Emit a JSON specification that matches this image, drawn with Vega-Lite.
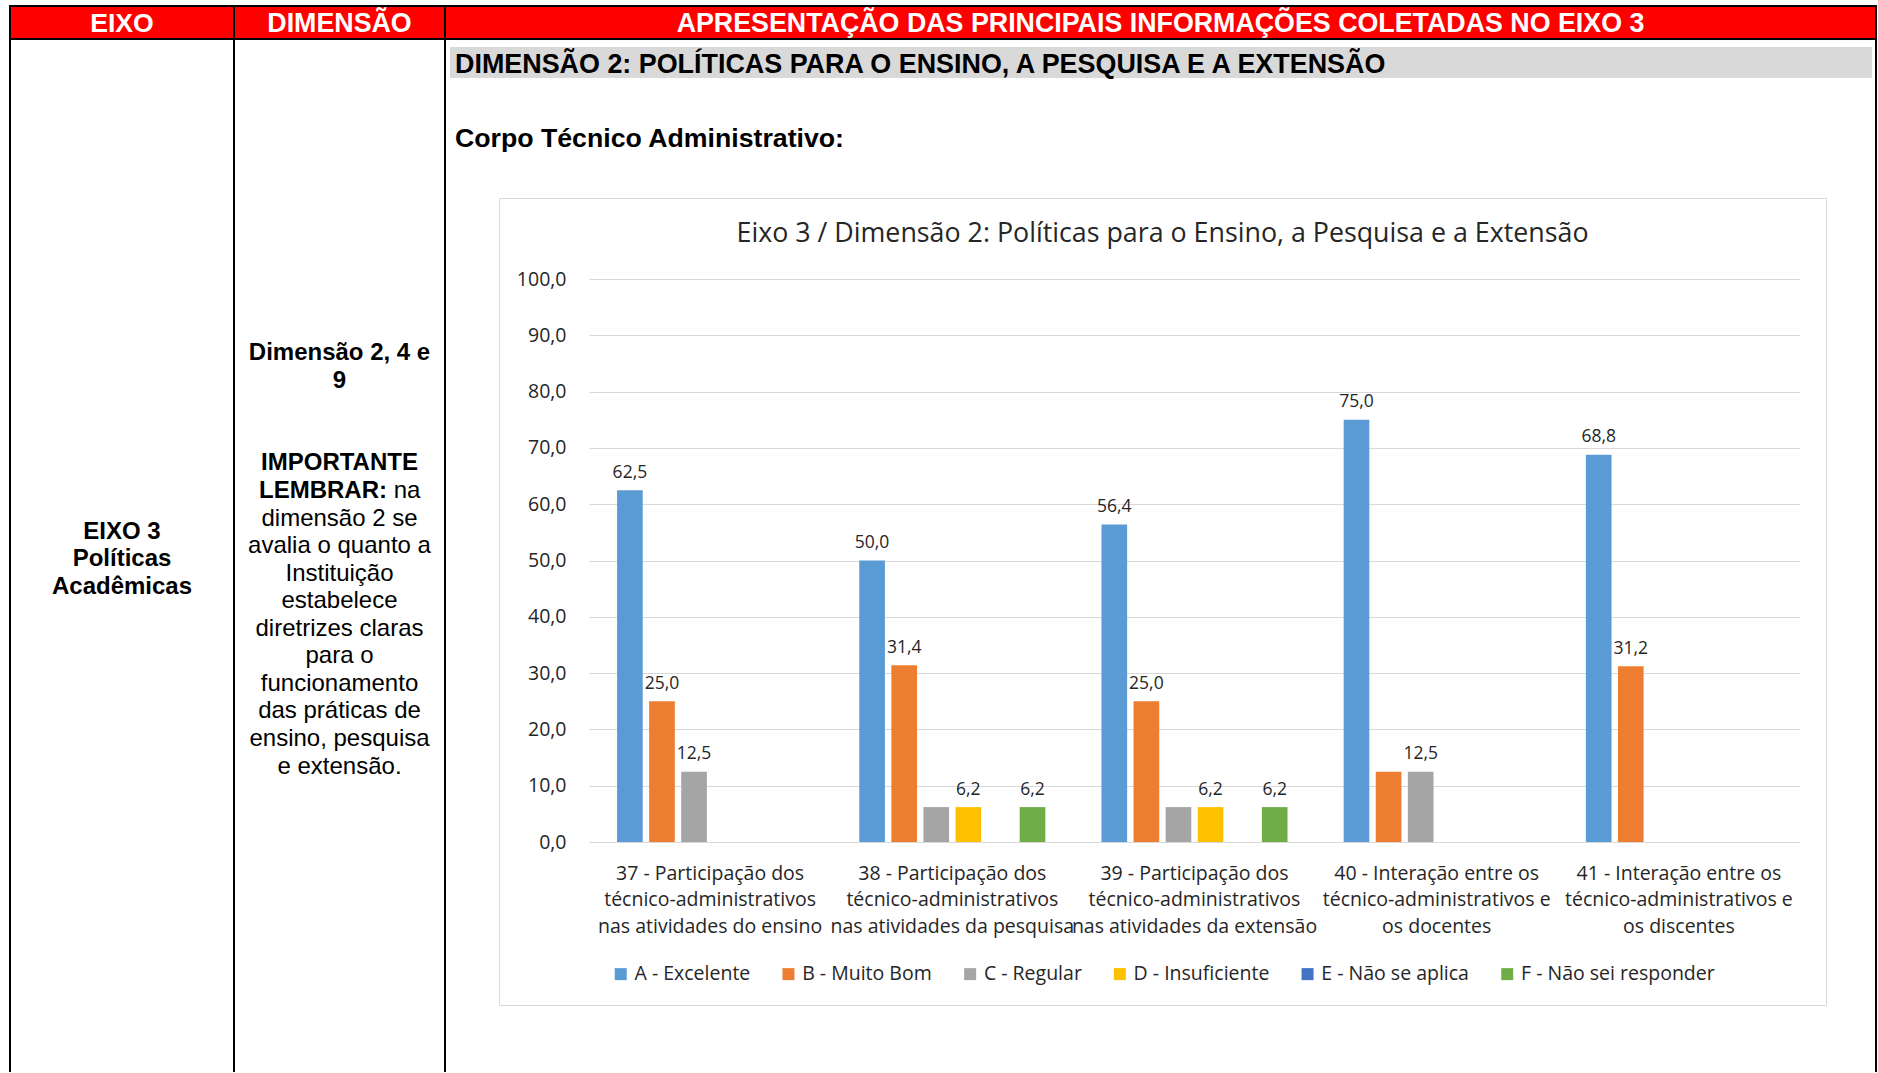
{
  "$schema": "https://vega.github.io/schema/vega-lite/v6.json",
  "padding": {"left": 9, "top": 5, "right": 0, "bottom": 0},
  "background": "white",
  "config": {"view": {"stroke": null}, "concat": {"spacing": 0}, "font": "Liberation Sans"},
  "spacing": 0,
  "vconcat": [
    {"width": 1868, "height": 2, "view": {"fill": "#000000", "stroke": null}, "data": {"values": []}, "mark": "point", "encoding": {}},
    {
      "spacing": 0,
      "hconcat": [
        {"width": 2, "height": 31, "view": {"fill": "#000000", "stroke": null}, "data": {"values": []}, "mark": "point", "encoding": {}},
        {"width": 222, "height": 31, "view": {"fill": "#ff0000", "stroke": null}, "data": {"values": [{"t": "EIXO"}]},
         "mark": {"type": "text", "font": "Liberation Sans", "fontSize": 26.6, "fontWeight": "bold", "color": "#ffffff", "baseline": "middle", "dy": 1},
         "encoding": {"text": {"field": "t"}}},
        {"width": 2, "height": 31, "view": {"fill": "#000000", "stroke": null}, "data": {"values": []}, "mark": "point", "encoding": {}},
        {"width": 209, "height": 31, "view": {"fill": "#ff0000", "stroke": null}, "data": {"values": [{"t": "DIMENSÃO"}]},
         "mark": {"type": "text", "font": "Liberation Sans", "fontSize": 26.8, "fontWeight": "bold", "color": "#ffffff", "baseline": "middle", "dy": 1},
         "encoding": {"text": {"field": "t"}}},
        {"width": 2, "height": 31, "view": {"fill": "#000000", "stroke": null}, "data": {"values": []}, "mark": "point", "encoding": {}},
        {"width": 1429, "height": 31, "view": {"fill": "#ff0000", "stroke": null}, "data": {"values": [{"t": "APRESENTAÇÃO DAS PRINCIPAIS INFORMAÇÕES COLETADAS NO EIXO 3"}]},
         "mark": {"type": "text", "font": "Liberation Sans", "fontSize": 26.8, "fontWeight": "bold", "color": "#ffffff", "baseline": "middle", "dy": 1},
         "encoding": {"text": {"field": "t"}}},
        {"width": 2, "height": 31, "view": {"fill": "#000000", "stroke": null}, "data": {"values": []}, "mark": "point", "encoding": {}}
      ]
    },
    {"width": 1868, "height": 2, "view": {"fill": "#000000", "stroke": null}, "data": {"values": []}, "mark": "point", "encoding": {}},
    {
      "spacing": 0,
      "hconcat": [
        {"width": 2, "height": 1032, "view": {"fill": "#000000", "stroke": null}, "data": {"values": []}, "mark": "point", "encoding": {}},
        {"width": 222, "height": 1032,
         "data": {"values": [{"linha": 1, "texto": "EIXO 3"}, {"linha": 2, "texto": "Políticas"}, {"linha": 3, "texto": "Acadêmicas"}]},
         "mark": {"type": "text", "font": "Liberation Sans", "fontSize": 24, "fontWeight": "bold", "color": "#000000", "baseline": "middle"},
         "encoding": {
           "y": {"field": "linha", "type": "quantitative", "scale": {"domain": [-16.851, 20.609], "reverse": true, "nice": false, "zero": false}, "axis": null},
           "text": {"field": "texto"}
         }},
        {"width": 2, "height": 1032, "view": {"fill": "#000000", "stroke": null}, "data": {"values": []}, "mark": "point", "encoding": {}},
        {"width": 209, "height": 1032,
         "layer": [
           {"data": {"values": [{"linha": 1, "texto": "Dimensão 2, 4 e"}, {"linha": 2, "texto": "9"}, {"linha": 5, "texto": "IMPORTANTE"}]},
            "mark": {"type": "text", "font": "Liberation Sans", "fontSize": 24, "fontWeight": "bold", "color": "#000000", "baseline": "middle"},
            "encoding": {
              "y": {"field": "linha", "type": "quantitative", "scale": {"domain": [-10.372, 27.088], "reverse": true, "nice": false, "zero": false}, "axis": null},
              "text": {"field": "texto"}
            }},
           {"data": {"values": [{"linha": 6, "negrito": "LEMBRAR:", "normal": "na"}]},
            "mark": {"type": "text", "font": "Liberation Sans", "fontSize": 24, "fontWeight": "bold", "color": "#000000", "baseline": "middle", "dx": -16.5},
            "encoding": {
              "y": {"field": "linha", "type": "quantitative", "scale": {"domain": [-10.372, 27.088], "reverse": true, "nice": false, "zero": false}, "axis": null},
              "text": {"field": "negrito"}
            }},
           {"data": {"values": [{"linha": 6, "negrito": "LEMBRAR:", "normal": "na"}]},
            "mark": {"type": "text", "font": "Liberation Sans", "fontSize": 24, "fontWeight": "normal", "color": "#000000", "baseline": "middle", "dx": 67.5},
            "encoding": {
              "y": {"field": "linha", "type": "quantitative", "scale": {"domain": [-10.372, 27.088], "reverse": true, "nice": false, "zero": false}, "axis": null},
              "text": {"field": "normal"}
            }},
           {"data": {"values": [
              {"linha": 7, "texto": "dimensão 2 se"},
              {"linha": 8, "texto": "avalia o quanto a"},
              {"linha": 9, "texto": "Instituição"},
              {"linha": 10, "texto": "estabelece"},
              {"linha": 11, "texto": "diretrizes claras"},
              {"linha": 12, "texto": "para o"},
              {"linha": 13, "texto": "funcionamento"},
              {"linha": 14, "texto": "das práticas de"},
              {"linha": 15, "texto": "ensino, pesquisa"},
              {"linha": 16, "texto": "e extensão."}
            ]},
            "mark": {"type": "text", "font": "Liberation Sans", "fontSize": 24, "fontWeight": "normal", "color": "#000000", "baseline": "middle"},
            "encoding": {
              "y": {"field": "linha", "type": "quantitative", "scale": {"domain": [-10.372, 27.088], "reverse": true, "nice": false, "zero": false}, "axis": null},
              "text": {"field": "texto"}
            }}
         ]},
        {"width": 2, "height": 1032, "view": {"fill": "#000000", "stroke": null}, "data": {"values": []}, "mark": "point", "encoding": {}},
        {
          "spacing": 0,
          "vconcat": [
            {"width": 1429, "height": 7, "data": {"values": []}, "mark": "point", "encoding": {}},
            {
              "spacing": 0,
              "hconcat": [
                {"width": 4, "height": 31, "data": {"values": []}, "mark": "point", "encoding": {}},
                {"width": 1422, "height": 31, "view": {"fill": "#d9d9d9", "stroke": null},
                 "title": {"text": "DIMENSÃO 2: POLÍTICAS PARA O ENSINO, A PESQUISA E A EXTENSÃO", "orient": "top", "anchor": "start", "frame": "group", "offset": -44.5, "baseline": "middle", "dx": 5, "font": "Liberation Sans", "fontSize": 26.9, "fontWeight": "bold", "color": "#000000"},
                 "data": {"values": []}, "mark": "point", "encoding": {}}
              ]
            },
            {"width": 1429, "height": 119,
             "title": {"text": "Corpo Técnico Administrativo:", "orient": "top", "anchor": "start", "frame": "group", "offset": -87.5, "baseline": "middle", "dx": 9, "font": "Liberation Sans", "fontSize": 26.7, "fontWeight": "bold", "color": "#000000"},
             "data": {"values": []}, "mark": "point", "encoding": {}},
            {
              "spacing": 0,
              "hconcat": [
                {"width": 52, "height": 807, "data": {"values": []}, "mark": "point", "encoding": {}},
                {
                  "width": 1327, "height": 807,
                  "view": {"stroke": "#d9d9d9", "strokeWidth": 1, "fill": "#ffffff"},
                  "title": {"text": "Eixo 3 / Dimensão 2: Políticas para o Ensino, a Pesquisa e a Extensão", "orient": "top", "anchor": "middle", "frame": "group", "offset": -63, "baseline": "middle", "font": "Open Sans", "fontSize": 26.8, "fontWeight": "normal", "color": "#262626"},
                  "data": {"values": [
                    {"pergunta": "37 - Participação dos|técnico-administrativos|nas atividades do ensino", "conceito": "A - Excelente", "percentual": 62.5, "rotulo": "62,5"},
                    {"pergunta": "37 - Participação dos|técnico-administrativos|nas atividades do ensino", "conceito": "B - Muito Bom", "percentual": 25.0, "rotulo": "25,0"},
                    {"pergunta": "37 - Participação dos|técnico-administrativos|nas atividades do ensino", "conceito": "C - Regular", "percentual": 12.5, "rotulo": "12,5"},
                    {"pergunta": "38 - Participação dos|técnico-administrativos|nas atividades da pesquisa", "conceito": "A - Excelente", "percentual": 50.0, "rotulo": "50,0"},
                    {"pergunta": "38 - Participação dos|técnico-administrativos|nas atividades da pesquisa", "conceito": "B - Muito Bom", "percentual": 31.4, "rotulo": "31,4"},
                    {"pergunta": "38 - Participação dos|técnico-administrativos|nas atividades da pesquisa", "conceito": "C - Regular", "percentual": 6.2, "rotulo": ""},
                    {"pergunta": "38 - Participação dos|técnico-administrativos|nas atividades da pesquisa", "conceito": "D - Insuficiente", "percentual": 6.2, "rotulo": "6,2"},
                    {"pergunta": "38 - Participação dos|técnico-administrativos|nas atividades da pesquisa", "conceito": "F - Não sei responder", "percentual": 6.2, "rotulo": "6,2"},
                    {"pergunta": "39 - Participação dos|técnico-administrativos|nas atividades da extensão", "conceito": "A - Excelente", "percentual": 56.4, "rotulo": "56,4"},
                    {"pergunta": "39 - Participação dos|técnico-administrativos|nas atividades da extensão", "conceito": "B - Muito Bom", "percentual": 25.0, "rotulo": "25,0"},
                    {"pergunta": "39 - Participação dos|técnico-administrativos|nas atividades da extensão", "conceito": "C - Regular", "percentual": 6.2, "rotulo": ""},
                    {"pergunta": "39 - Participação dos|técnico-administrativos|nas atividades da extensão", "conceito": "D - Insuficiente", "percentual": 6.2, "rotulo": "6,2"},
                    {"pergunta": "39 - Participação dos|técnico-administrativos|nas atividades da extensão", "conceito": "F - Não sei responder", "percentual": 6.2, "rotulo": "6,2"},
                    {"pergunta": "40 - Interação entre os|técnico-administrativos e|os docentes", "conceito": "A - Excelente", "percentual": 75.0, "rotulo": "75,0"},
                    {"pergunta": "40 - Interação entre os|técnico-administrativos e|os docentes", "conceito": "B - Muito Bom", "percentual": 12.5, "rotulo": ""},
                    {"pergunta": "40 - Interação entre os|técnico-administrativos e|os docentes", "conceito": "C - Regular", "percentual": 12.5, "rotulo": "12,5"},
                    {"pergunta": "41 - Interação entre os|técnico-administrativos e|os discentes", "conceito": "A - Excelente", "percentual": 68.8, "rotulo": "68,8"},
                    {"pergunta": "41 - Interação entre os|técnico-administrativos e|os discentes", "conceito": "B - Muito Bom", "percentual": 31.2, "rotulo": "31,2"}
                  ]},
                  "encoding": {
                    "x": {"field": "pergunta", "type": "nominal", "sort": null,
                          "scale": {"range": [90, 1301], "paddingInner": 0, "paddingOuter": 0},
                          "axis": {"title": null, "labelAngle": 0, "labelExpr": "split(datum.label, '|')", "offset": -163, "labelPadding": 22, "ticks": false, "domain": false, "labelFont": "Open Sans", "labelFontSize": 19.5, "labelLineHeight": 26.5, "labelColor": "#262626", "labelLimit": 400}},
                    "xOffset": {"field": "conceito", "type": "nominal",
                          "scale": {"domain": ["A - Excelente", "B - Muito Bom", "C - Regular", "D - Insuficiente", "E - Não se aplica", "F - Não sei responder"], "paddingInner": 0.2, "paddingOuter": 0.875}},
                    "y": {"field": "percentual", "type": "quantitative",
                          "scale": {"domain": [0, 100], "range": [644, 81], "nice": false},
                          "axis": {"title": null, "values": [0, 10, 20, 30, 40, 50, 60, 70, 80, 90, 100], "labelExpr": "replace(format(datum.value, '.1f'), '.', ',')", "offset": -90, "labelPadding": 23, "ticks": false, "domain": false, "gridColor": "#d9d9d9", "gridWidth": 1, "labelFont": "Open Sans", "labelFontSize": 19.5, "labelColor": "#262626"}}
                  },
                  "layer": [
                    {"mark": {"type": "bar"},
                     "encoding": {
                       "color": {"field": "conceito", "type": "nominal",
                                 "scale": {"domain": ["A - Excelente", "B - Muito Bom", "C - Regular", "D - Insuficiente", "E - Não se aplica", "F - Não sei responder"],
                                           "range": ["#5b9bd5", "#ed7d31", "#a5a5a5", "#ffc000", "#4472c4", "#70ad47"]},
                                 "legend": {"title": null, "orient": "none", "legendX": 602, "legendY": 959, "direction": "horizontal", "columns": 6, "symbolType": "square", "symbolSize": 144, "symbolStrokeWidth": 0, "labelFont": "Open Sans", "labelFontSize": 19.5, "labelColor": "#262626", "labelOffset": 4, "columnPadding": 27.7, "padding": 0, "labelLimit": 400}}
                     }},
                    {"mark": {"type": "text", "baseline": "middle", "dy": -17.5, "font": "Open Sans", "fontSize": 17.5, "color": "#262626"},
                     "encoding": {"text": {"field": "rotulo"}}}
                  ]
                }
              ]
            }
          ]
        },
        {"width": 2, "height": 1032, "view": {"fill": "#000000", "stroke": null}, "data": {"values": []}, "mark": "point", "encoding": {}}
      ]
    }
  ]
}
